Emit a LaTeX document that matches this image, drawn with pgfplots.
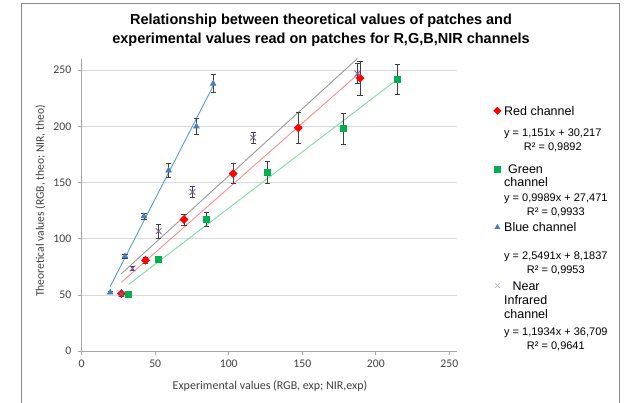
\documentclass[border=0pt]{standalone}
\usepackage{pgfplots}
\pgfplotsset{compat=1.18}
\usepackage{pgfplotstable}
\usepackage{fontspec}
\setmainfont{Carlito}
\newfontfamily\arialfont{Liberation Sans}

\definecolor{redmk}{HTML}{FF0000}
\definecolor{greenmk}{HTML}{00B050}
\definecolor{bluemk}{HTML}{4A7EBB}
\definecolor{nirmk}{HTML}{8064A2}
\definecolor{redtr}{HTML}{FF8C8C}
\definecolor{greentr}{HTML}{7FDBA0}
\definecolor{bluetr}{HTML}{5B9BD5}
\definecolor{nirtr}{HTML}{9A9A9A}
\definecolor{axisgray}{HTML}{A6A6A6}
\definecolor{gridgray}{HTML}{D9D9D9}
\definecolor{txtgray}{HTML}{404040}
\definecolor{framegray}{HTML}{8A8A8A}
\definecolor{errgray}{HTML}{404040}

% experimental value, theoretical value, error
\pgfplotstableread{
x y e
27.0 51.3 2
43.4 81.0 3
69.6 117.2 5
103.0 158.0 9
147.3 198.7 14
189.3 243.0 15
}\redtab
\pgfplotstableread{
x y e
31.9 51.0 1.5
51.9 81.6 2
84.6 117.2 6
126.4 159.3 10
178.0 198.1 14
214.8 242.0 13
}\greentab
\pgfplotstableread{
x y e
19.4 52.2 1
29.4 84.5 2
42.3 120.0 3
59.1 160.8 6
78.0 200.0 7
89.4 238.0 8
}\bluetab
\pgfplotstableread{
x y e
27.0 51.0 1
34.6 73.6 2
52.3 106.8 6
75.3 141.7 5
116.6 190.0 5
187.5 247.0 9
}\nirtab

\pgfplotsset{
  witherr/.style={
    error bars/y dir=both, error bars/y explicit,
    error bars/error bar style={draw=errgray, line width=0.55bp},
    error bars/error mark options={rotate=90, mark size=2.6bp, draw=errgray, line width=0.55bp}},
}

\newcommand\namefont{\arialfont\fontsize{12.5bp}{14bp}\selectfont}
\newcommand\eqblock[2]{\hfill{\fontsize{11bp}{14.5bp}\selectfont\begin{tabular}[t]{@{}c@{}}#1\\#2\end{tabular}}}
% one legend block: bottom-aligned box of fixed height, text set from its top
\newcommand\legblock[1]{\parbox[b][56.8bp][t]{111bp}{\namefont\strut #1}}

\begin{document}
\begin{tikzpicture}
\path[use as bounding box] (0,0) rectangle (626bp,403bp);
\draw[framegray, line width=0.9bp] (21.5bp,0) -- (21.5bp,399.7bp) -- (619.5bp,399.7bp) -- (619.5bp,0);

\node[font=\arialfont\bfseries\fontsize{14.5bp}{19bp}\selectfont, align=center] at (321bp,372.5bp)
  {Relationship between theoretical values of patches and\\experimental values read on patches for R,G,B,NIR channels};
\node[font=\fontsize{12bp}{14bp}\selectfont, text=txtgray] at (270bp,17bp) {Experimental values (RGB, exp; NIR,exp)};
\node[font=\fontsize{11.6bp}{14bp}\selectfont, text=txtgray, rotate=90] at (40.5bp,202bp) {Theoretical values (RGB, theo; NIR, theo)};

\begin{axis}[
  at={(81.7bp,51.8bp)}, anchor=south west,
  scale only axis, width=375bp, height=292.2bp,
  xmin=0, xmax=255, ymin=0, ymax=260,
  xtick={0,50,...,250}, ytick={0,50,...,250},
  axis lines=left,
  axis line style={draw=axisgray, line width=0.8bp, -},
  tick align=outside, major tick length=4bp,
  tick style={draw=axisgray, line width=0.8bp},
  ymajorgrids, grid style={draw=gridgray, line width=0.9bp},
  tick label style={font=\fontsize{11.7bp}{14bp}\selectfont, text=txtgray},
  yticklabel style={xshift=-3bp},
  xticklabel style={yshift=-1.5bp},
  /pgf/number format/assume math mode=true,
  clip=false,
  legend image code/.code={\draw[#1] plot coordinates {(0bp,51.5bp)};},
  legend style={at={(1.0987,0.8412)}, anchor=north west, draw=none, fill=none,
    inner sep=0pt, outer sep=0pt, row sep=0pt, column sep=3.1bp,
    cells={anchor=base west}, nodes={inner sep=0pt}},
]
% linear trendlines (end points from the fitted equations)
\addplot[redtr, line width=0.9bp, forget plot] coordinates {(27.0,61.29) (189.3,248.10)};
\addplot[greentr, line width=0.9bp, forget plot] coordinates {(31.9,59.34) (214.8,242.03)};
\addplot[bluetr, line width=0.9bp, forget plot] coordinates {(19.4,57.64) (89.4,236.07)};
\addplot[nirtr, line width=0.9bp, forget plot] coordinates {(27.0,68.93) (187.5,260.47)};

% measured patches
\addplot[only marks, mark=square*, mark size=2.9bp, mark options={rotate=45, fill=redmk, draw=redmk}, witherr, forget plot]
  table[x=x, y=y, y error=e] {\redtab};
\addplot[only marks, mark=square*, mark size=3bp, mark options={fill=greenmk, draw=greenmk}, witherr, forget plot]
  table[x=x, y=y, y error=e] {\greentab};
\addplot[only marks, mark=triangle*, mark size=3.4bp, mark options={fill=bluemk, draw=bluemk}, witherr, forget plot]
  table[x=x, y=y, y error=e] {\bluetab};
\addplot[only marks, mark=x, mark size=4bp, mark options={draw=nirmk, line width=0.9bp}, witherr, forget plot]
  table[x=x, y=y, y error=e] {\nirtab};

\addlegendimage{only marks, mark=square*, mark size=2.6bp, mark options={rotate=45, fill=redmk, draw=redmk}}
\addlegendentry{\legblock{Red channel\\[5.8bp]\eqblock{y = 1,151x + 30,217}{R² = 0,9892}}}
\addlegendimage{only marks, mark=square*, mark size=2.8bp, mark options={fill=greenmk, draw=greenmk}}
\addlegendentry{\legblock{\hspace{4bp}Green\\[-0.5bp]channel\\[0.4bp]\eqblock{y = 0,9989x + 27,471}{R² = 0,9933}}}
\addlegendimage{only marks, mark=triangle*, mark size=3bp, mark options={fill=bluemk, draw=bluemk}}
\addlegendentry{\legblock{Blue channel\\[12.2bp]\eqblock{y = 2,5491x + 8,1837}{R² = 0,9953}}}
\addlegendimage{only marks, mark=x, mark size=3.2bp, mark options={draw=nirmk!45, line width=0.7bp}}
\addlegendentry{\legblock{\hspace{8.4bp}Near\\Infrared\\[0.3bp]channel\\[2.9bp]\eqblock{y = 1,1934x + 36,709}{R² = 0,9641}}}
\end{axis}
\end{tikzpicture}
\end{document}
